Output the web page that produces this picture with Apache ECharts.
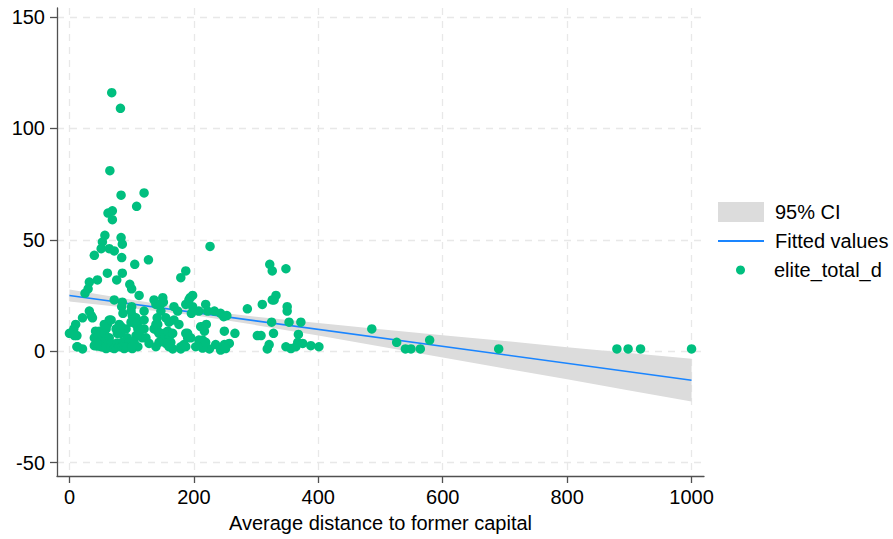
<!DOCTYPE html>
<html><head><meta charset="utf-8">
<script src="https://cdn.jsdelivr.net/npm/echarts@6/dist/echarts.min.js"></script>
<style>html,body{margin:0;padding:0;background:#fff}#c{width:893px;height:539px}</style>
</head><body><div id="c"></div>
<script>
const xTicks = [0, 200, 400, 600, 800, 1000];
const yTicks = [-50, 0, 50, 100, 150];

// 95% CI band
const ciX     = [0, 100, 200, 300, 400, 500, 600, 700, 800, 900, 1000];
const ciLower = [22.3, 19.3, 16.1, 11.7, 7.0, 2.1, -2.8, -7.8, -12.6, -17.6, -22.6];
const ciUpper = [27.7, 23.1, 18.7, 15.5, 12.6, 9.9, 7.2, 4.6, 1.8, -0.8, -3.4];

// Fitted values
const fitX = [0, 1000];
const fitY = [25, -13];

// elite_total_d scatter: [distance, elite_total_d]
const scatterPoints = [
  [68,116],[82,109],[65,81],[120,71],[83,70],[108,65],[69,63],[62,62],[69,59],
  [57,52],[53,49],[51,46],[83,51],[85,48],[84,42],[64,46],[72,45],[40,43],[105,39],[127,41],[226,47],
  [61,35],[85,35],[76,32],[45,32],[32,31],[97,30],[100,28],[30,28],[25,26],
  [179,33],[187,36],
  [112,25],[72,23],[85,22],[84,20],[86,17],[100,20],[101,16],
  [136,23],[139,21],[146,21],[150,24],[151,22],[147,18],[168,20],[174,18],[187,21],[192,23],[198,25],[194,24],
  [198,20],[196,17],[208,18],[219,21],[222,18],[99,18],[120,18],[107,15],[110,13],[120,14],[141,15],[142,12],
  [155,15],[160,13],[168,14],[176,12],
  [32,18],[35,16],[21,15],[37,15],[10,12],[7,10],[2,8],[0,8],[12,7],[8,7],[13,2],[21,1],[12,2],
  [64,14],[61,12],[56,12],[67,14],[80,12],[75,10],[91,10],[83,11],
  [48,9],[42,9],[40,6],[45,6],[53,6],[51,4],[61,6],[59,10],[51,8],[56,8],[64,6],[83,8],[77,8],[93,6],[85,4],[99,3.5],[96,4],
  [40,2.5],[45,2.3],[48,2.7],[51,2],[53,2],[44,3.7],[59,1.2],[59,2],[64,3.7],[67,3.5],[67,1.7],[72,1.2],[75,2.3],[77,3.7],
  [80,2],[83,2],[85,2],[88,1.2],[91,1.7],[93,2],[99,2],[101,1.2],[110,2],
  [99,13],[107,12],[110,10],[120,10],[115,10],[107,7],[117,6],[112,7.5],[123,6],[104,4],[101,2],
  [136,10],[139,12],[142,9],[144,8],[152,8],[152,6],[158,9],[160,6],[166,8],[163,4],[155,3.5],[160,2],[128,3.5],[139,2],
  [144,4],[166,1],[179,1],[184,3],[179,2],[187,2],
  [187,8],[190,6],[190,8],[195,6],[211,11],[214,11],[217,9],[208,5],[214,5],[217,3],[214,2],[203,2],[225,1],[214,1.4],
  [233,18],[243,17],[248,15.5],[253,16],[220,12],[249,9],[266,8],[219,4],[235,3],[249,3],[257,3.5],[243,0.5],[251,1.2],
  [286,19],[310,21],[326,23],[329,23],[332,25],[322,39],[326,36],[348,37],[350,20],[350,18],[325,13],[353,13],[372,13],
  [302,7],[308,7],[328,8],[368,7.5],[321,3],[318,1],[348,2],[356,1.2],[364,2],[367,4],[375,3.5],[388,2.5],[401,2],
  [486,10],[526,4],[540,1],[549,1],[564,1],[579,5],[690,1],[880,1],[898,1],[918,1],[1000,1]
];

const FONT = '"Liberation Sans", Arial, Helvetica, sans-serif';
const AXIS_COLOR = '#505050';
const GRID_COLOR = '#e8e8e8';
const GREEN = '#00bf7f';
const BLUE = '#1a85ff';
const CI_GRAY = '#dcdcdc';

const chart = echarts.init(document.getElementById('c'), null, {renderer: 'svg'});

const legendText = {fontSize: 20, color: '#000', fontFamily: FONT, lineHeight: 22, padding: [0, 0, 0, 6]};
const legendTextDot = {fontSize: 20, color: '#000', fontFamily: FONT, lineHeight: 22, padding: [0, 0, 0, 24]};

const option = {
  animation: false,
  backgroundColor: '#fff',
  grid: {left: 57, right: 189, top: 8, bottom: 63},
  xAxis: {
    type: 'value', min: -20, max: 1020,
    name: 'Average distance to former capital',
    nameLocation: 'middle', nameGap: 37,
    nameTextStyle: {fontSize: 20, color: '#000', fontFamily: FONT},
    axisLine: {show: true, onZero: false, lineStyle: {color: AXIS_COLOR, width: 1.3}},
    axisTick: {show: true, customValues: xTicks, length: 7, lineStyle: {color: AXIS_COLOR, width: 1.3}},
    axisLabel: {customValues: xTicks, fontSize: 20, color: '#000', fontFamily: FONT, margin: 11,
                formatter: v => String(v)},
    splitLine: {show: true, lineStyle: {type: [7, 6], color: GRID_COLOR, width: 1.3}}
  },
  yAxis: {
    type: 'value', min: -56, max: 154,
    axisLine: {show: true, onZero: false, lineStyle: {color: AXIS_COLOR, width: 1.3}},
    axisTick: {show: true, customValues: yTicks, length: 7, lineStyle: {color: AXIS_COLOR, width: 1.3}},
    axisLabel: {customValues: yTicks, fontSize: 20, color: '#000', fontFamily: FONT, margin: 12,
                formatter: v => String(v)},
    splitLine: {show: true, lineStyle: {type: [7, 6], color: GRID_COLOR, width: 1.3}}
  },
  legend: [
    {data: [{name: '95% CI', icon: 'rect', itemStyle: {color: CI_GRAY, borderWidth: 0}}],
     left: 718, top: 201, padding: 0, itemWidth: 46, itemHeight: 20, selectedMode: false, textStyle: legendText},
    {data: [{name: 'Fitted values', icon: 'rect', itemStyle: {color: BLUE, borderWidth: 0}}],
     left: 718, top: 230, padding: 0, itemWidth: 46, itemHeight: 2, selectedMode: false, textStyle: legendText},
    {data: [{name: 'elite_total_d', icon: 'circle', itemStyle: {color: GREEN, borderWidth: 0}}],
     left: 736, top: 259, padding: 0, itemWidth: 9, itemHeight: 9, selectedMode: false, textStyle: legendTextDot}
  ],
  series: [
    {name: '95% CI', type: 'custom', silent: true, z: 1, color: CI_GRAY,
     data: ciX.map((x, i) => [x, ciLower[i], ciUpper[i]]),
     encode: {x: 0, y: [1, 2]},
     renderItem: function (params, api) {
       if (params.dataIndex !== 0) return null;
       const pts = [];
       for (let i = 0; i < ciX.length; i++) pts.push(api.coord([ciX[i], ciUpper[i]]));
       for (let i = ciX.length - 1; i >= 0; i--) pts.push(api.coord([ciX[i], ciLower[i]]));
       return {type: 'polygon', shape: {points: pts}, style: {fill: CI_GRAY, stroke: null}};
     }},
    {name: 'Fitted values', type: 'line', data: fitX.map((x, i) => [x, fitY[i]]),
     symbol: 'none', silent: true, color: BLUE, lineStyle: {color: BLUE, width: 1.6}, z: 2},
    {name: 'elite_total_d', type: 'scatter', data: scatterPoints, symbol: 'circle', symbolSize: 9.5,
     silent: true, color: GREEN, itemStyle: {color: GREEN, opacity: 1}, z: 3}
  ]
};
chart.setOption(option);
</script>
</body></html>
